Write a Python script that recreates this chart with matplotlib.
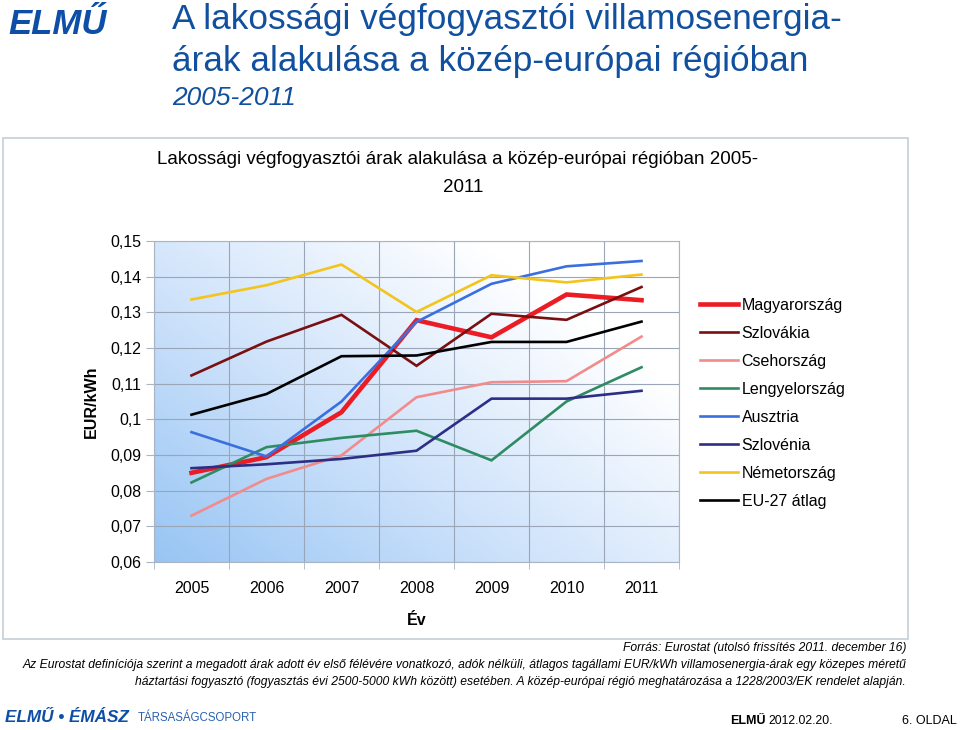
import numpy as np
import matplotlib
matplotlib.use('Agg')
import matplotlib.pyplot as plt
from matplotlib.colors import LinearSegmentedColormap
from matplotlib.patches import Rectangle

plt.rcParams['font.family'] = ['Liberation Sans', 'DejaVu Sans']

years = ['2005', '2006', '2007', '2008', '2009', '2010', '2011']
y_ticks = [0.06, 0.07, 0.08, 0.09, 0.10, 0.11, 0.12, 0.13, 0.14, 0.15]
y_labels = ['0,06', '0,07', '0,08', '0,09', '0,1', '0,11', '0,12', '0,13', '0,14', '0,15']

# EUR/kWh
magyarorszag = [0.0850, 0.0894, 0.1020, 0.1278, 0.1230, 0.1350, 0.1334]
szlovakia = [0.1123, 0.1218, 0.1293, 0.1150, 0.1296, 0.1279, 0.1371]
csehorszag = [0.0730, 0.0833, 0.0899, 0.1062, 0.1104, 0.1107, 0.1232]
lengyelorszag = [0.0823, 0.0922, 0.0948, 0.0968, 0.0885, 0.1050, 0.1146]
ausztria = [0.0964, 0.0896, 0.1050, 0.1273, 0.1380, 0.1429, 0.1444]
szlovenia = [0.0863, 0.0874, 0.0889, 0.0912, 0.1058, 0.1058, 0.1080]
nemetorszag = [0.1336, 0.1376, 0.1434, 0.1301, 0.1404, 0.1384, 0.1406]
eu27 = [0.1013, 0.1071, 0.1177, 0.1179, 0.1217, 0.1217, 0.1274]

series = [
    ('Magyarország', magyarorszag, '#ec1c24', 3.3),
    ('Szlovákia', szlovakia, '#7a0f12', 1.9),
    ('Csehország', csehorszag, '#f28b8b', 1.9),
    ('Lengyelország', lengyelorszag, '#2e8b62', 1.9),
    ('Ausztria', ausztria, '#3a6fe0', 1.9),
    ('Szlovénia', szlovenia, '#2c2f85', 1.9),
    ('Németország', nemetorszag, '#f3c41c', 1.9),
    ('EU-27 átlag', eu27, '#000000', 1.9),
]

W, H = 960, 730
fig = plt.figure(figsize=(W / 100, H / 100), dpi=100)


def px(x, y):
    return x / W, 1 - y / H


# chart frame
fig.patches.append(Rectangle(px(3, 639), 905 / W, 501 / H, transform=fig.transFigure,
                             facecolor='white', edgecolor='#c5ced8', linewidth=1.2, zorder=0))

ax = fig.add_axes([154 / W, 1 - 562 / H, 525 / W, 321 / H])
ax.set_zorder(2)
ax.patch.set_alpha(0)

# gradient background of plot area
gx, gy = np.meshgrid(np.linspace(0, 1, 200), np.linspace(0, 1, 200))
t = np.clip((0.6 * gx + 0.5 * gy) * 1.15, 0, 1)
cmap = LinearSegmentedColormap.from_list('bg', ['#98c5f4', '#cfe3fb', '#ffffff'])
ax.imshow(t, extent=[-0.5, 6.5, 0.06, 0.15], origin='lower', aspect='auto', cmap=cmap,
          vmin=0, vmax=1, zorder=0)

x = np.arange(len(years))
for name, vals, col, lw in series:
    ax.plot(x, vals, color=col, linewidth=lw, label=name, zorder=3, solid_joinstyle='miter')

ax.set_xlim(-0.5, 6.5)
ax.set_ylim(0.06, 0.15)
ax.set_xticks(x)
ax.set_xticklabels(years, fontsize=11.5)
ax.set_xticks(np.arange(-0.5, 7, 1), minor=True)
ax.set_yticks(y_ticks)
ax.set_yticklabels(y_labels, fontsize=11.5)
ax.tick_params(axis='x', which='major', length=0, pad=14)
ax.tick_params(axis='x', which='minor', length=5, color='#a9b4c4')
ax.tick_params(axis='y', length=6, color='#a9b4c4', pad=3)
ax.grid(axis='y', which='major', color='#9aa6b8', linewidth=0.8, zorder=1)
ax.grid(axis='x', which='minor', color='#9aa6b8', linewidth=0.8, zorder=1)
for s in ax.spines.values():
    s.set_color('#a9b4c4')
    s.set_linewidth(0.8)
ax.set_axisbelow(True)

ax.set_ylabel('EUR/kWh', fontsize=11.5, fontweight='bold', labelpad=8)
ax.set_xlabel('Év', fontsize=11.5, fontweight='bold', labelpad=12)

ax.legend(loc='upper left', bbox_to_anchor=px(700, 298), bbox_transform=fig.transFigure,
          frameon=False, fontsize=11.5, handlelength=2.4, handletextpad=0.2,
          labelspacing=0.81, borderpad=0, borderaxespad=0)

# chart title
fig.text(*px(458, 160), 'Lakossági végfogyasztói árak alakulása a közép-európai régióban 2005-',
         fontsize=13.5, ha='center', va='center')
fig.text(*px(463, 187), '2011', fontsize=13.5, ha='center', va='center')

# slide header
blue = '#11509e'
fig.text(*px(8, 25), 'ELMŰ', fontsize=25, fontweight='bold', fontstyle='italic',
         color='#0d4ea6', ha='left', va='center')
fig.text(*px(172, 20), 'A lakossági végfogyasztói villamosenergia-', fontsize=25.3,
         color=blue, ha='left', va='center')
fig.text(*px(172, 62), 'árak alakulása a közép-európai régióban', fontsize=25.3,
         color=blue, ha='left', va='center')
fig.text(*px(172, 98), '2005-2011', fontsize=19, fontstyle='italic',
         color=blue, ha='left', va='center')

# notes
fig.text(*px(906, 648), 'Forrás: Eurostat (utolsó frissítés 2011. december 16)',
         fontsize=8.7, fontstyle='italic', ha='right', va='center')
fig.text(*px(906, 665),
         'Az Eurostat definíciója szerint a megadott árak adott év első félévére vonatkozó, '
         'adók nélküli, átlagos tagállami EUR/kWh villamosenergia-árak egy közepes méretű',
         fontsize=8.7, fontstyle='italic', ha='right', va='center')
fig.text(*px(906, 682),
         'háztartási fogyasztó (fogyasztás évi 2500-5000 kWh között) esetében. '
         'A közép-európai régió meghatározása a 1228/2003/EK rendelet alapján.',
         fontsize=8.7, fontstyle='italic', ha='right', va='center')

# footer
fig.text(*px(5, 718), 'ELMŰ • ÉMÁSZ', fontsize=12.3, fontweight='bold', fontstyle='italic',
         color='#0d4ea6', ha='left', va='center')
fig.text(*px(138, 718), 'TÁRSASÁGCSOPORT', fontsize=8.3, color='#2a62b0',
         ha='left', va='center')
fig.text(*px(730, 721), 'ELMŰ', fontsize=9, fontweight='bold', ha='left', va='center')
fig.text(*px(768, 721), '2012.02.20.', fontsize=8.7, ha='left', va='center')
fig.text(*px(957, 721), '6. OLDAL', fontsize=9, ha='right', va='center')

fig.savefig('out.png', dpi=100)
